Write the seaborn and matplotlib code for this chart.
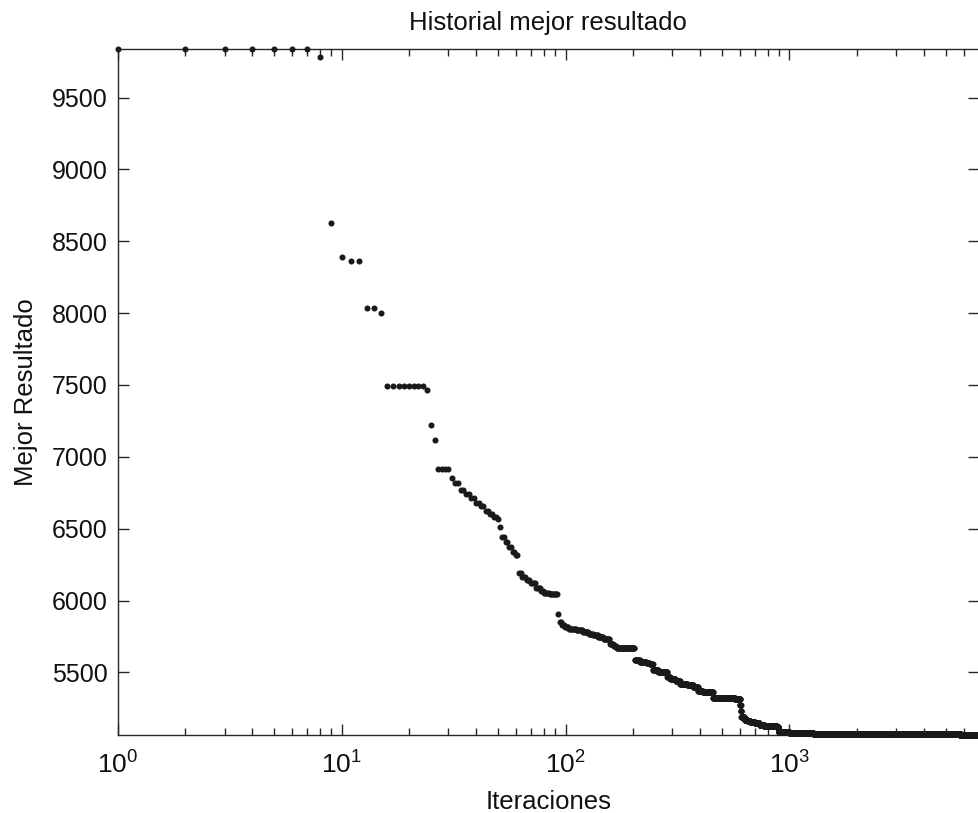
import numpy as np
import pandas as pd
import matplotlib
matplotlib.use("Agg")
import matplotlib.pyplot as plt
import seaborn as sns
from matplotlib.ticker import LogLocator, FixedLocator

# iteration at which a new best result was found, and that best result
change_iter = [1, 8, 9, 10, 11, 13, 15, 16, 24, 25, 26, 27, 31, 32, 34, 36, 38, 40,
               42, 44, 46, 48, 50, 51, 52, 54, 56, 58, 60, 62, 64, 67, 70, 74, 78,
               80, 85, 93, 94, 96, 99, 104, 112, 120, 127, 133, 140, 148, 158, 164,
               169, 204, 215, 230, 238, 246, 260, 273, 285, 294, 310, 325, 350, 372,
               391, 410, 442, 456, 571, 602, 606, 610, 630, 650, 668, 700, 735, 770,
               810, 878, 894, 1000, 1280, 5800]
best_vals = [9838, 9782, 8630, 8389, 8366, 8033, 8003, 7496, 7463, 7222, 7116, 6917,
             6852, 6815, 6772, 6740, 6712, 6680, 6655, 6625, 6602, 6580, 6567, 6510,
             6444, 6410, 6370, 6340, 6318, 6192, 6165, 6140, 6125, 6086, 6065, 6055,
             6046, 5907, 5850, 5830, 5815, 5800, 5795, 5781, 5770, 5757, 5745, 5734,
             5700, 5685, 5672, 5583, 5572, 5565, 5560, 5514, 5505, 5500, 5470, 5456,
             5440, 5421, 5410, 5398, 5368, 5365, 5360, 5322, 5318, 5271, 5230, 5190,
             5170, 5160, 5155, 5145, 5137, 5130, 5127, 5121, 5082, 5076, 5072, 5064]
n_iter = 7000
y_ticks = [5500, 6000, 6500, 7000, 7500, 8000, 8500, 9000, 9500]

# best-so-far history: value stays constant until the next improvement
counts = np.diff(change_iter + [n_iter + 1])
df = pd.DataFrame({
    "Iteraciones": np.arange(1, n_iter + 1),
    "Mejor Resultado": np.repeat(best_vals, counts),
})

sns.set_style("ticks")
plt.rcParams["font.family"] = ["Liberation Sans", "DejaVu Sans"]
plt.rcParams["mathtext.fontset"] = "custom"
plt.rcParams["mathtext.rm"] = "Liberation Sans"
plt.rcParams["mathtext.it"] = "Liberation Sans"

fig = plt.figure(figsize=(9.79, 8.13), dpi=100)
ax = fig.add_axes([0.1202, 0.0959, 0.8795, 0.8438])

sns.scatterplot(data=df, x="Iteraciones", y="Mejor Resultado", ax=ax,
                color="#1a1a1a", s=19, linewidth=0, legend=False, clip_on=False,
                zorder=3)

ax.set_xscale("log")
ax.set_xlim(1, n_iter)
ax.set_ylim(min(best_vals), max(best_vals))
ax.yaxis.set_major_locator(FixedLocator(y_ticks))
ax.xaxis.set_major_locator(LogLocator(base=10, numticks=10))
ax.xaxis.set_minor_locator(LogLocator(base=10, subs=np.arange(2, 10), numticks=20))

for s in ax.spines.values():
    s.set_visible(True)
    s.set_linewidth(1.0)
    s.set_color("#262626")

ax.tick_params(axis="both", which="major", direction="in", length=8, width=1,
               top=True, right=True, labelsize=18, colors="#262626")
ax.tick_params(axis="both", which="minor", direction="in", length=5, width=1,
               top=True, right=True)
ax.tick_params(axis="x", which="major", pad=12, labelsize=19)
ax.tick_params(axis="y", which="major", pad=7)
for lab in ax.get_xticklabels() + ax.get_yticklabels():
    lab.set_color("#111111")

ax.set_title("Historial mejor resultado", fontsize=18.5, pad=14, color="#111111")
ax.set_xlabel("Iteraciones", fontsize=18.5, labelpad=8, color="#111111")
ax.set_ylabel("Mejor Resultado", fontsize=18.5, labelpad=10, color="#111111")
ax.set_facecolor("white")

fig.savefig("out.png", dpi=100, facecolor="white")
